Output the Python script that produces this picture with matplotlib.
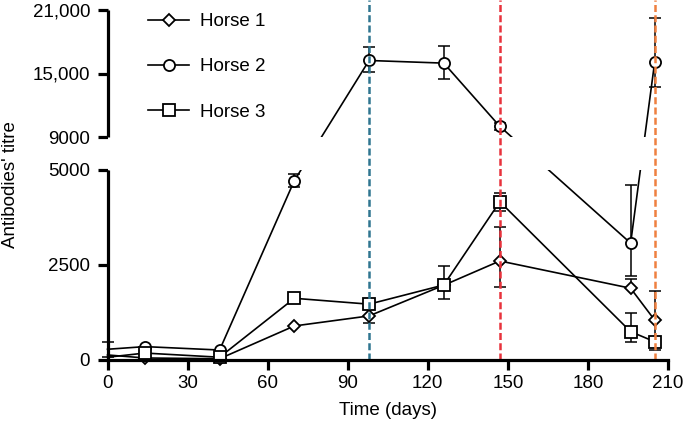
import numpy as np
import matplotlib
matplotlib.use("Agg")
import matplotlib.pyplot as plt
from matplotlib.lines import Line2D

plt.rcParams['font.family'] = ['Liberation Sans', 'DejaVu Sans']

# dados
days = [0, 14, 42, 70, 98, 126, 147, 196, 205]
horse1 = [120, 40, 20, 885, 1150, 1960, 2600, 1880, 1040]
horse2 = [270, 340, 250, 4720, 16230, 15980, 10000, 3070, 16070]
horse3 = [60, 170, 60, 1615, 1460, 1966, 4163, 735, 470]

# barras de erro (abaixo, acima)
h1_lo = [0, 0, 0, 0, 190, 0, 700, 0, 780]
h1_hi = [0, 0, 0, 0, 190, 0, 900, 250, 780]
h2_lo = [200, 0, 0, 170, 1110, 1480, 350, 870, 2370]
h2_hi = [200, 0, 0, 170, 1260, 1600, 350, 1530, 4190]
h3_lo = [0, 0, 0, 0, 0, 370, 240, 265, 0]
h3_hi = [0, 0, 0, 0, 0, 500, 240, 480, 0]

vline_days = [98, 147, 205]
vline_colors = ['#2f7590', '#e8323c', '#ef8040']

yticks = [0, 2500, 5000, 9000, 15000, 21000]
ytick_labels = ['0', '2500', '5000', '9000', '15,000', '21,000']
xticks = [0, 30, 60, 90, 120, 150, 180, 210]

# escala quebrada: 0-5000 embaixo, 9000-21000 em cima
pos = np.array([0, 189.5, 222.5, 349.5])


def fwd(y):
    y = np.asarray(y, float)
    return np.where(y <= 5000, y * pos[1] / 5000,
                    np.where(y <= 9000, pos[1] + (y - 5000) * (pos[2] - pos[1]) / 4000,
                             pos[2] + (y - 9000) * (pos[3] - pos[2]) / 12000))


def inv(p):
    p = np.asarray(p, float)
    return np.where(p <= pos[1], p * 5000 / pos[1],
                    np.where(p <= pos[2], 5000 + (p - pos[1]) * 4000 / (pos[2] - pos[1]),
                             9000 + (p - pos[2]) * 12000 / (pos[3] - pos[2])))


fig = plt.figure(figsize=(6.85, 4.28), dpi=100)
ax = fig.add_axes([107.5 / 685, 1 - 359.5 / 428, 560.5 / 685, 349.5 / 428])
ax.set_yscale('function', functions=(fwd, inv))
ax.set_ylim(0, 21000)
ax.set_xlim(0, 210)

series = [
    (horse1, h1_lo, h1_hi, 'D', 6.5, 'Horse 1'),
    (horse2, h2_lo, h2_hi, 'o', 8, 'Horse 2'),
    (horse3, h3_lo, h3_hi, 's', 8, 'Horse 3'),
]
for vals_, lo, hi, mk, ms, lab in series:
    idx = [i for i in range(len(days)) if lo[i] > 0 or hi[i] > 0]
    ax.errorbar([days[i] for i in idx], [vals_[i] for i in idx],
                yerr=[[lo[i] for i in idx], [hi[i] for i in idx]],
                fmt='none', ecolor='black', elinewidth=1.1, capsize=4.5,
                capthick=1.1, zorder=1.5, clip_on=False)
    ax.plot(days, vals_, color='black', lw=1.2, marker=mk, ms=ms,
            mfc='white', mec='black', mew=1.3, markevery=list(range(1, len(days))),
            label=lab, zorder=2, clip_on=False)

# esconder a região da quebra
ax.axhspan(5000, 9000, color='white', zorder=3, lw=0)

for d, c in zip(vline_days, vline_colors):
    ax.axvline(d, ymin=0, ymax=1 + 10 / 349.5, color=c, lw=1.8,
               ls=(0, (2.8, 1.3)), clip_on=False, zorder=4)

# eixos
for s in ['top', 'right', 'left']:
    ax.spines[s].set_visible(False)
ax.spines['bottom'].set_linewidth(2.3)
ax.spines['bottom'].set_zorder(5)
for y0, y1 in [(0, 5000), (9000, 21000)]:
    ax.add_line(Line2D([0, 0], [y0, y1], color='black', lw=2.3,
                       clip_on=False, zorder=5, solid_capstyle='butt'))

ax.set_yticks(yticks)
ax.set_yticklabels(ytick_labels)
ax.set_xticks(xticks)
ax.minorticks_off()
ax.tick_params(axis='both', length=7.5, width=2.3, labelsize=13.5, color='black')
ax.tick_params(axis='y', pad=5)
ax.tick_params(axis='x', pad=4)

ax.set_xlabel('Time (days)', fontsize=13.5)
ax.set_ylabel("Antibodies' titre", fontsize=13.5)
ax.xaxis.set_label_coords(0.5, -0.122)
ax.yaxis.set_label_coords(-0.158, 0.5)

ax.legend(loc='upper left', bbox_to_anchor=(148 / 685, 1 - 13 / 428),
          bbox_transform=fig.transFigure, frameon=False, fontsize=13.5,
          handlelength=2.2, handletextpad=0.55, labelspacing=1.5,
          borderpad=0, borderaxespad=0)

fig.savefig('out.png', dpi=100)
